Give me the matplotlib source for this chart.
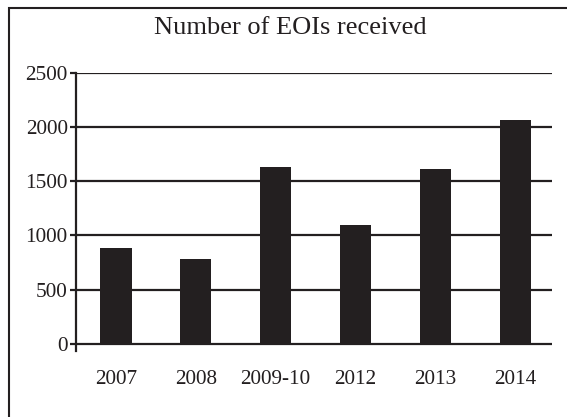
import matplotlib.pyplot as plt
from matplotlib.patches import Rectangle

# Data
years = ['2007', '2008', '2009-10', '2012', '2013', '2014']
eois = [885, 785, 1635, 1100, 1615, 2065]
y_ticks = [0, 500, 1000, 1500, 2000, 2500]

ink = '#231f20'
plt.rcParams['font.family'] = ['Liberation Serif', 'DejaVu Serif']

fig = plt.figure(figsize=(5.67, 4.17), dpi=100)
ax = fig.add_axes([76 / 567, 1 - 350.5 / 417, (552 - 76) / 567, (350.5 - 72.7) / 417])

x = list(range(len(years)))
ax.bar(x, eois, width=0.39, color=ink, zorder=3)

# horizontal grid lines (including the baseline at 0)
for yt in y_ticks:
    ax.axhline(yt, color=ink, lw=1.6, zorder=2)

ax.set_xlim(-0.5, 5.46)
ax.set_ylim(-60, 2500)
ax.set_yticks(y_ticks)
ax.set_yticklabels([str(v) for v in y_ticks], fontsize=15.3, color=ink)
ax.set_xticks(x)
ax.set_xticklabels(years, fontsize=15.3, color=ink)
ax.tick_params(axis='x', length=0, pad=14)
ax.tick_params(axis='y', length=4, width=1.6, color=ink, pad=2)

for side in ['top', 'right', 'bottom']:
    ax.spines[side].set_visible(False)
ax.spines['left'].set_linewidth(1.6)
ax.spines['left'].set_color(ink)

fig.text(290 / 567, 1 - 28 / 417, 'Number of EOIs received', ha='center', va='center',
         fontsize=19, color=ink)

# outer frame (cut off at right and bottom edges)
fig.add_artist(Rectangle((9 / 567, -0.1), 1.2, 1 - 8 / 417 + 0.1,
                         transform=fig.transFigure, fill=False, lw=1.5, edgecolor=ink))

fig.savefig('out.png', dpi=100)
